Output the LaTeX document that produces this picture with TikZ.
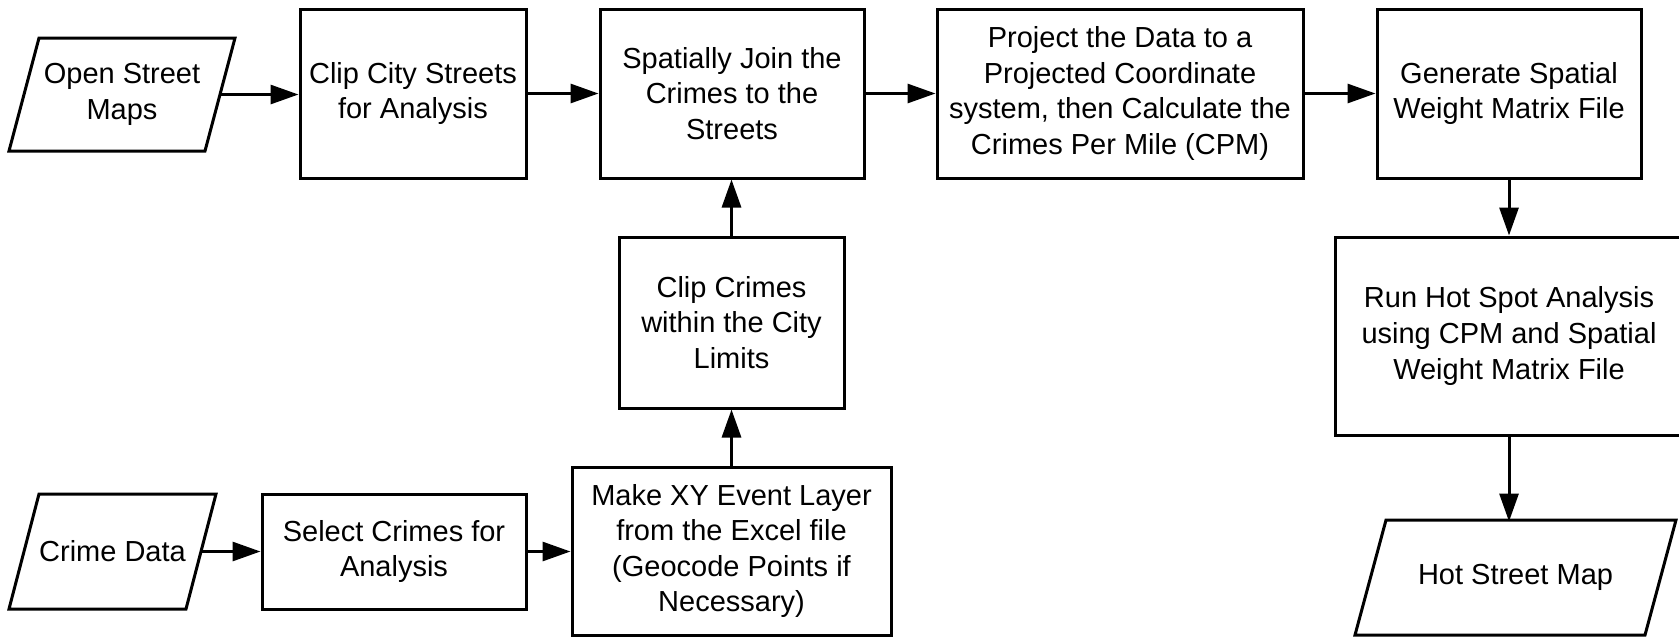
\documentclass[tikz,border=0pt]{standalone}
\usepackage{fontspec}
\setmainfont{Liberation Sans}
\usetikzlibrary{arrows.meta}
\begin{document}
\begin{tikzpicture}[x=0.5pt,y=-0.5pt,
  txt/.style={align=center, inner sep=0pt, outer sep=0pt, font=\fontsize{14.5}{17.8}\selectfont},
  box/.style={txt, draw, line width=1.5pt, rectangle, outer sep=0.75pt},
  iobox/.style={txt, rectangle},
  paraline/.style={line width=1.5pt, line join=miter},
  arr/.style={line width=1.5pt, -{Triangle[length=14pt,width=9.5pt]}}]
\useasboundingbox (0,0) rectangle (1679,637);
\clip (0,0) rectangle (1679,637);
% top row
\node[iobox, minimum width=98pt, minimum height=56.5pt] (osm) at (122,94.5) {Open Street\\Maps};
\draw[paraline] ([xshift=7.5pt]osm.north west) -- ([xshift=7.5pt]osm.north east)
  -- ([xshift=-7.5pt]osm.south east) -- ([xshift=-7.5pt]osm.south west) -- cycle;
\node[box, minimum width=113pt, minimum height=84.5pt] (clipcity) at (413,93.5) {Clip City Streets\\for Analysis};
\node[box, minimum width=132pt, minimum height=84.5pt] (spatial) at (732,93.5) {Spatially Join the\\Crimes to the\\Streets};
\node[box, minimum width=183pt, minimum height=84.5pt] (project) at (1120,93.5) {Project the Data to a\\Projected Coordinate\\system, then Calculate the\\Crimes Per Mile (CPM)};
\node[box, minimum width=132pt, minimum height=84.5pt] (generate) at (1509,93.5) {Generate Spatial\\Weight Matrix File};
% middle
\node[box, minimum width=112.5pt, minimum height=85.5pt] (clipcrimes) at (731.5,322.5) {Clip Crimes\\within the City\\Limits};
\node[box, minimum width=174pt, minimum height=99pt] (run) at (1509,336) {Run Hot Spot Analysis\\using CPM and Spatial\\Weight Matrix File};
% bottom row
\node[iobox, minimum width=88.5pt, minimum height=57.5pt] (crimedata) at (112.5,551.5) {Crime Data};
\draw[paraline] ([xshift=7.5pt]crimedata.north west) -- ([xshift=7.5pt]crimedata.north east)
  -- ([xshift=-7.5pt]crimedata.south east) -- ([xshift=-7.5pt]crimedata.south west) -- cycle;
\node[box, minimum width=132pt, minimum height=57.5pt] (select) at (394,551.5) {Select Crimes for\\Analysis};
\node[box, minimum width=159.5pt, minimum height=84pt] (makexy) at (731.5,551) {Make XY Event Layer\\from the Excel file\\(Geocode Points if\\Necessary)};
\node[iobox, minimum width=145pt, minimum height=57.5pt] (hotmap) at (1515.5,577.5) {Hot Street Map};
\draw[paraline] ([xshift=7.75pt]hotmap.north west) -- ([xshift=7.75pt]hotmap.north east)
  -- ([xshift=-7.75pt]hotmap.south east) -- ([xshift=-7.75pt]hotmap.south west) -- cycle;
% connectors
\draw[arr] (osm.east) -- (osm.east -| clipcity.west);
\draw[arr] (clipcity) -- (spatial);
\draw[arr] (spatial) -- (project);
\draw[arr] (project) -- (generate);
\draw[arr] (generate) -- (run);
\draw[arr] (run.south) -- ([yshift=-0.75pt]run.south |- hotmap.north);
\draw[arr] (crimedata.east) -- (crimedata.east -| select.west);
\draw[arr] (select.east) -- (select.east -| makexy.west);
\draw[arr] (makexy) -- (clipcrimes);
\draw[arr] (clipcrimes.north) -- (clipcrimes.north |- spatial.south);
\end{tikzpicture}
\end{document}
